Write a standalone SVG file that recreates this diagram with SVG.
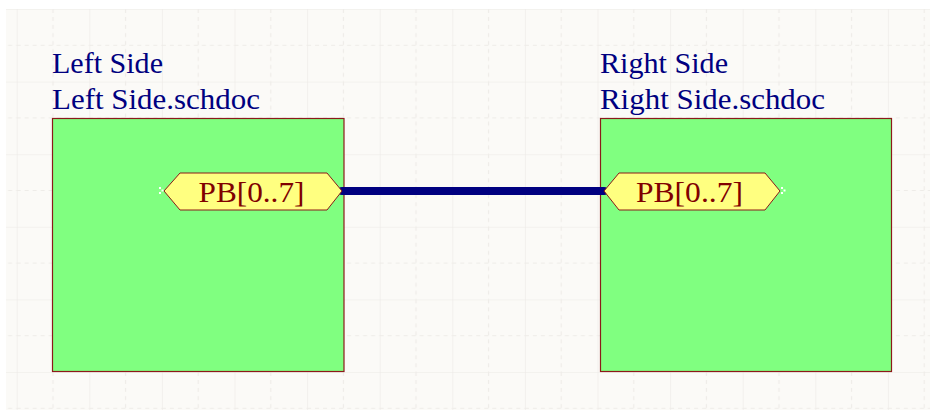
<svg xmlns="http://www.w3.org/2000/svg" width="930" height="410" viewBox="0 0 930 410">
  <style>
    .title { font-family: "Liberation Serif", "Times New Roman", serif; font-size: 30px; fill: #000080; }
    .sheet { fill: #80ff80; stroke: #8b1a1a; stroke-width: 1.2; }
    .port { fill: #ffff80; stroke: #8b1a1a; stroke-width: 1; }
    .portlabel { font-family: "Liberation Serif", "Times New Roman", serif; font-size: 30px; fill: #800000; }
    .wire { stroke: #000080; stroke-width: 8; stroke-linecap: round; fill: none; }
    .gs { stroke: #eceae6; stroke-width: 1.2; }
    .gd { stroke: #eeece8; stroke-width: 1.2; stroke-dasharray: 4 4; }
    .hot { fill: #ffffff; }
  </style>
  <defs>
    <pattern id="grid" patternUnits="userSpaceOnUse" x="16.7" y="9" width="72.6" height="72.6">
      <line class="gs" x1="0" y1="0" x2="72.6" y2="0"/>
      <line class="gs" x1="0" y1="0" x2="0" y2="72.6"/>
      <line class="gd" x1="0" y1="36.3" x2="72.6" y2="36.3"/>
      <line class="gd" x1="36.3" y1="0" x2="36.3" y2="72.6"/>
    </pattern>
  </defs>
  <rect x="0" y="0" width="930" height="410" fill="#ffffff"/>
  <rect x="6" y="9" width="924" height="401" fill="#fbfaf7"/>
  <rect x="6" y="9" width="924" height="401" fill="url(#grid)"/>

  <g id="left-sheet">
    <text class="title" x="52" y="73" textLength="111" lengthAdjust="spacingAndGlyphs">Left Side</text>
    <text class="title" x="52" y="109" textLength="208" lengthAdjust="spacingAndGlyphs">Left Side.schdoc</text>
    <rect class="sheet" x="52.5" y="118.5" width="291.5" height="253"/>
  </g>

  <g id="right-sheet">
    <text class="title" x="600" y="73" textLength="128" lengthAdjust="spacingAndGlyphs">Right Side</text>
    <text class="title" x="600" y="109" textLength="225" lengthAdjust="spacingAndGlyphs">Right Side.schdoc</text>
    <rect class="sheet" x="600.5" y="118.5" width="291" height="253"/>
  </g>

  <g id="connectors">
    <line class="wire" x1="342" y1="191" x2="604" y2="191"/>
  </g>

  <g id="left-port">
    <polygon class="port" points="164,191 180,173 327,173 342,191 327,210 180,210"/>
    <text class="portlabel" x="198.5" y="201.5" textLength="106" lengthAdjust="spacingAndGlyphs">PB[0..7]</text>
    <rect class="hot" x="159" y="187" width="2" height="2"/>
    <rect class="hot" x="159" y="192" width="2" height="2"/>
    <rect class="hot" x="161.5" y="189.5" width="2" height="2"/>
  </g>

  <g id="right-port">
    <polygon class="port" points="604,191 619,173 765,173 780,191 765,210 619,210"/>
    <text class="portlabel" x="636" y="201.5" textLength="107" lengthAdjust="spacingAndGlyphs">PB[0..7]</text>
    <rect class="hot" x="781" y="187" width="2" height="2"/>
    <rect class="hot" x="781" y="192" width="2" height="2"/>
    <rect class="hot" x="783.5" y="189.5" width="2" height="2"/>
  </g>
</svg>
